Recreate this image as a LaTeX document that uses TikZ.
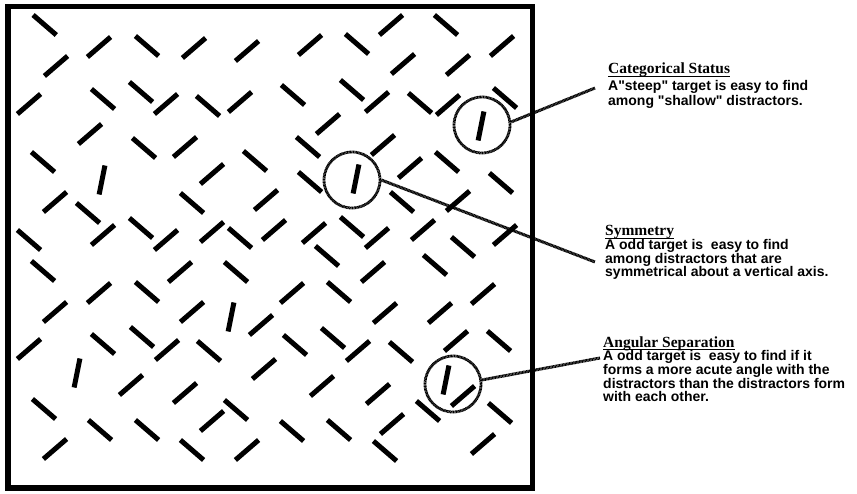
\documentclass[tikz,border=0pt]{standalone}
\usepackage{fontspec}
\setmainfont{Liberation Sans}[Ligatures=TeXOff]
\newfontfamily\headserif{Liberation Serif}
% heading with an underline set just below the baseline
\newcommand\headline[1]{{\headserif\bfseries\fontsize{15.5}{14}\selectfont\setbox0\hbox{#1}\rlap{\vrule width\wd0 height -2pt depth 3.2pt}\box0}}
\begin{document}
\begin{tikzpicture}[x=1pt,y=-1pt,
  bar/.style={line width=5pt, line cap=butt},
  frame/.style={line width=5.5pt},
  ring/.style={circle, draw, minimum size=56pt, inner sep=0pt, line width=2.8pt, dash pattern=on 1pt off 0.45pt},
  hatch/.style={line width=3pt, dash pattern=on 1pt off 0.45pt},
  textblock/.style={anchor=north west, inner sep=0pt, align=left}]
\useasboundingbox (0,0) rectangle (857,493);

% outer frame
\draw[frame] (8,6.5) rectangle (532.5,488);

% shallow bars falling to the right
\foreach \x/\y in {44.7/25, 147/46, 141/92, 103/99, 208/106, 293/95, 144/148, 255/161, 43/162, 308/147,
  357/44, 446/25, 352/90, 420/103, 505/98, 447/162, 310/182, 88/213, 192/203, 29/240, 141/228, 240/238,
  43/271, 236/272, 147/292, 142/337, 501/183, 402/202, 352/227, 463/247, 327/256, 435/265, 339/292,
  333/338, 103/344, 209/351, 295/345, 44/409, 236/410, 100/430, 147/430, 292/431, 192/450, 401/352,
  499/341, 428/411, 500/413, 339/430, 385/451}
  \draw[bar] (\x-11.6,\y-10) -- ++(23.2,20);

% shallow bars rising to the right
\foreach \x/\y in {99/47, 194/48, 247/51, 310/45, 56/66, 29/104, 166/104, 240/102, 90/134, 185/147,
  212/174, 391/25, 502/46, 403/64, 458/65, 377/102, 448/105, 328/124, 383/145, 410/168, 55/202,
  266/200, 103/235, 166/240, 212/232, 274/230, 180/272, 99/293, 292/293, 55/312, 192/312, 261/325,
  458/201, 314/233, 377/238, 423/230, 505/235, 373/272, 483/294, 385/313, 440/313, 29/349, 167/350,
  264/369, 131/385, 185/393, 212/421, 55/449, 247/450, 358/351, 456/341, 322/386, 378/394, 463/396,
  392/424, 483/444}
  \draw[bar] (\x-11.6,\y+10) -- ++(23.2,-20);

% steep bars
\foreach \x/\y in {102/180, 481/126, 356/179, 231/317, 77/373, 446/380}
  \draw[bar] (\x-2.9,\y+14.5) -- ++(5.8,-29);

% rings round the targets
\node[ring] (cat) at (482,125) {};
\node[ring] (sym) at (352,180) {};
\node[ring] (ang) at (453,384) {};

% explanations
\node[textblock, font=\bfseries\fontsize{14}{15}\selectfont] (cattext) at (608,62.8)
  {\headline{Categorical Status}\\[1.5pt]
   A"steep" target is easy to find\\
   among "shallow" distractors.};
\node[textblock, font=\bfseries\fontsize{14}{13.7}\selectfont] (symtext) at (605,225.2)
  {\headline{Symmetry}\\
   A odd target is~ easy to find\\
   among distractors that are\\
   symmetrical about a vertical axis.};
\node[textblock, font=\bfseries\fontsize{14}{13.7}\selectfont] (angtext) at (603,336.2)
  {\headline{Angular Separation}\\
   A odd target is~ easy to find if it\\
   forms a more acute angle with the\\
   distractors than the distractors form\\
   with each other.};

% leader lines
\coordinate (catend) at (595,88);
\coordinate (symend) at (595,262);
\coordinate (angend) at (600,358);
\draw[hatch] (cat.6) -- (catend);
\draw[hatch] (sym.east) -- (symend);
\draw[hatch] (ang.8) -- (angend);
\end{tikzpicture}
\end{document}
